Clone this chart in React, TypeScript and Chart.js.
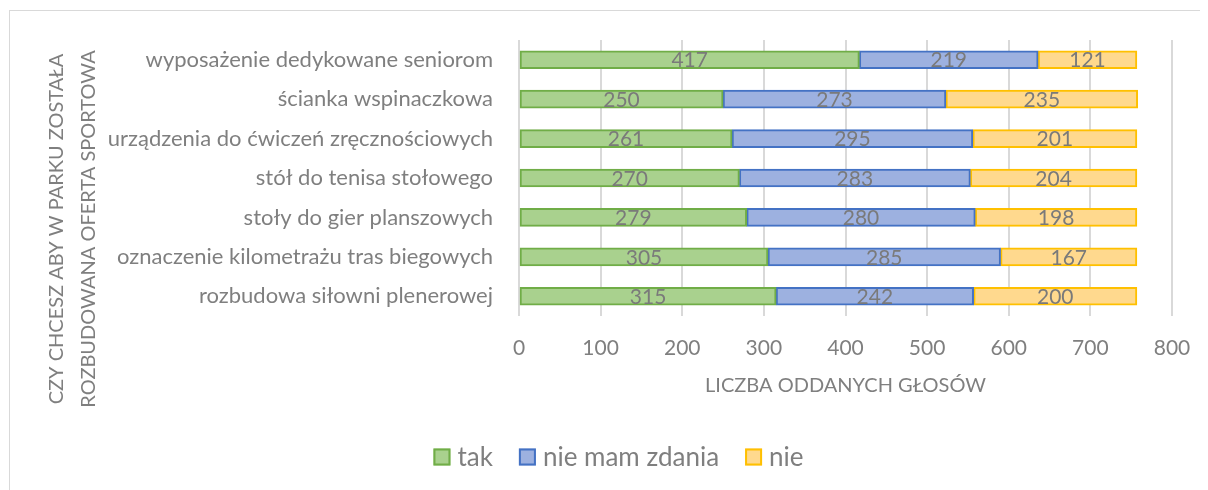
import React, { useEffect, useRef } from "react";
import { Chart, registerables } from "chart.js";

Chart.register(...registerables);

const categories = [
  "wyposażenie dedykowane seniorom",
  "ścianka wspinaczkowa",
  "urządzenia do ćwiczeń zręcznościowych",
  "stół do tenisa stołowego",
  "stoły do gier planszowych",
  "oznaczenie kilometrażu tras biegowych",
  "rozbudowa siłowni plenerowej",
];
const takValues = [417, 250, 261, 270, 279, 305, 315];
const nieMamZdaniaValues = [219, 273, 295, 283, 280, 285, 242];
const nieValues = [121, 235, 201, 204, 198, 167, 200];
const seriesNames = ["tak", "nie mam zdania", "nie"];
const xTicks = [0, 100, 200, 300, 400, 500, 600, 700, 800];
const xAxisTitle = "LICZBA ODDANYCH GŁOSÓW";
const yAxisTitle = ["CZY CHCESZ ABY W PARKU ZOSTAŁA", "ROZBUDOWANA OFERTA SPORTOWA"];

const FONT = "Lato, 'Open Sans', sans-serif";
const TEXT = "#7f7f7f";
const fills = ["#A9D18E", "#9DB1E0", "#FFD98E"];
const borders = ["#70AD47", "#4472C4", "#FFC000"];

const labelsPlugin = {
  id: "customText",
  afterDatasetsDraw(chart: any) {
    const ctx = chart.ctx;
    ctx.save();
    ctx.font = `21px ${FONT}`;
    ctx.fillStyle = "#7a7a7a";
    ctx.textAlign = "center";
    ctx.textBaseline = "middle";
    chart.data.datasets.forEach((ds: any, i: number) => {
      const meta = chart.getDatasetMeta(i);
      meta.data.forEach((el: any, j: number) => {
        const cx = (el.x + el.base) / 2;
        ctx.fillText(String(ds.data[j]), cx, el.y + 1);
      });
    });
    ctx.restore();
  },
  afterDraw(chart: any) {
    const ctx = chart.ctx;
    const area = chart.chartArea;
    ctx.save();
    ctx.fillStyle = TEXT;
    // x axis title
    ctx.font = `20px ${FONT}`;
    ctx.textAlign = "center";
    ctx.textBaseline = "middle";
    ctx.fillText(xAxisTitle, (area.left + area.right) / 2, 378);
    // y axis title
    ctx.save();
    ctx.translate(49, 221);
    ctx.rotate(-Math.PI / 2);
    ctx.fillText(yAxisTitle[0], 0, 0);
    ctx.fillText(yAxisTitle[1], 0, 32);
    ctx.restore();
    // legend
    ctx.font = `26px ${FONT}`;
    ctx.textAlign = "left";
    const box = 17;
    const gap = 7;
    const spacing = 26;
    const widths = chart.data.datasets.map((d: any) => ctx.measureText(d.label).width);
    const total =
      widths.reduce((a: number, b: number) => a + b, 0) +
      chart.data.datasets.length * (box + gap) +
      (chart.data.datasets.length - 1) * spacing;
    let x = 610.5 - total / 2;
    const cy = 449;
    chart.data.datasets.forEach((d: any, i: number) => {
      ctx.fillStyle = d.backgroundColor;
      ctx.fillRect(x, cy - box / 2, box, box);
      ctx.strokeStyle = d.borderColor;
      ctx.lineWidth = 2;
      ctx.strokeRect(x + 1, cy - box / 2 + 1, box - 2, box - 2);
      ctx.fillStyle = TEXT;
      ctx.fillText(d.label, x + box + gap, cy + 1);
      x += box + gap + widths[i] + spacing;
    });
    ctx.restore();
  },
};

export default function App() {
  const ref = useRef<HTMLCanvasElement>(null);
  useEffect(() => {
    if (!ref.current) return;
    const values = [takValues, nieMamZdaniaValues, nieValues];
    const chart = new Chart(ref.current, {
      type: "bar",
      data: {
        labels: categories,
        datasets: values.map((v, i) => ({
          label: seriesNames[i],
          data: v,
          backgroundColor: fills[i],
          borderColor: borders[i],
          borderWidth: 2,
          borderSkipped: false,
          barThickness: 18,
        })),
      },
      options: {
        indexAxis: "y",
        animation: false,
        responsive: false,
        maintainAspectRatio: false,
        layout: { padding: { top: 32, right: 36, left: 0, bottom: 0 } },
        plugins: {
          legend: { display: false },
          tooltip: { enabled: false },
          title: { display: false },
        },
        scales: {
          x: {
            stacked: true,
            min: 0,
            max: 800,
            afterBuildTicks: (scale: any) => {
              scale.ticks = xTicks.map((v) => ({ value: v }));
            },
            afterFit: (scale: any) => {
              scale.height = 174;
              scale.paddingLeft = 0;
              scale.paddingRight = 0;
            },
            grid: { color: "#d9d9d9", lineWidth: 2, drawTicks: false },
            border: { display: false },
            ticks: {
              color: TEXT,
              font: { family: FONT, size: 21 },
              padding: 20,
              maxRotation: 0,
            },
          },
          y: {
            stacked: true,
            afterFit: (scale: any) => {
              scale.width = 511;
              scale.paddingTop = 0;
              scale.paddingBottom = 0;
            },
            grid: { display: false, drawTicks: false },
            border: { display: false },
            ticks: {
              color: TEXT,
              font: { family: FONT, size: 22 },
              padding: 26,
            },
          },
        },
      },
      plugins: [labelsPlugin],
    } as any);
    return () => chart.destroy();
  }, []);
  return (
    <div style={{ position: "relative", width: 1200, height: 482, overflow: "hidden" }}>
      <div
        style={{
          position: "absolute",
          left: 1,
          top: 2,
          width: 1300,
          height: 600,
          border: "1px solid #d9d9d9",
          boxSizing: "border-box",
        }}
      />
      <canvas
        ref={ref}
        width={1200}
        height={482}
        style={{ position: "absolute", left: 0, top: 0, width: 1200, height: 482 }}
      />
    </div>
  );
}
